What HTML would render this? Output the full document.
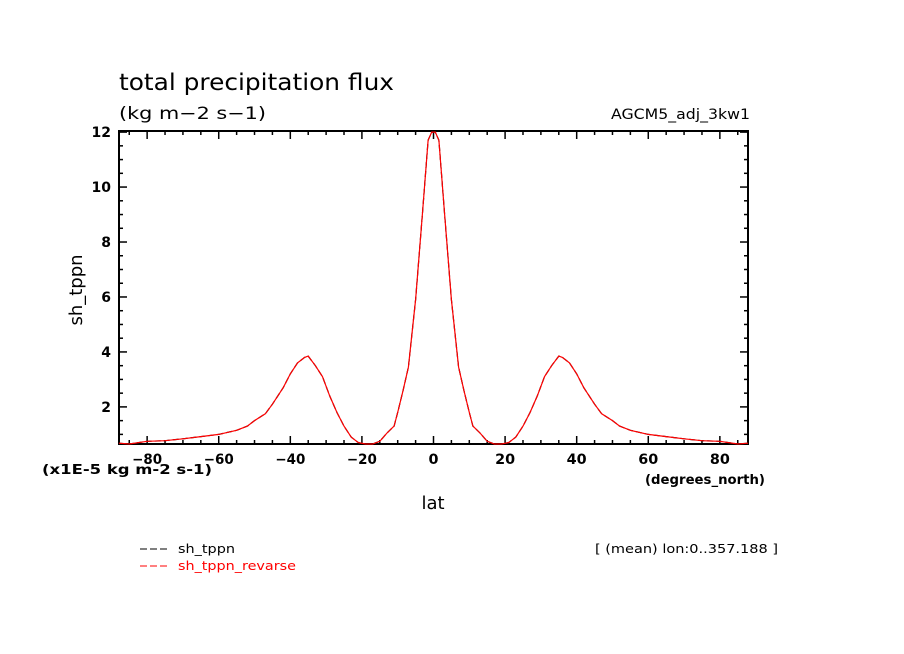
<!DOCTYPE html>
<html><head><meta charset="utf-8">
<style>
html,body{margin:0;padding:0;background:#fff;}
svg{display:block;font-family:"DejaVu Sans","Liberation Sans",sans-serif;}
</style></head>
<body>
<svg id="chart" width="904" height="654" viewBox="0 0 904 654">
<text x="119" y="90" font-size="23" textLength="275" lengthAdjust="spacingAndGlyphs">total precipitation flux</text>
<text x="119" y="119" font-size="17" textLength="147" lengthAdjust="spacingAndGlyphs">(kg m−2 s−1)</text>
<text x="611" y="119" font-size="14" textLength="139" lengthAdjust="spacingAndGlyphs">AGCM5_adj_3kw1</text>
<text transform="translate(82,290) rotate(-90)" font-size="18" text-anchor="middle">sh_tppn</text>
<text x="433" y="509" font-size="18" text-anchor="middle">lat</text>
<text x="42" y="474" font-size="13" font-weight="bold" textLength="170" lengthAdjust="spacingAndGlyphs">(x1E-5 kg m-2 s-1)</text>
<text x="645" y="484" font-size="13" font-weight="bold" textLength="120" lengthAdjust="spacingAndGlyphs">(degrees_north)</text>
<g id="axes"></g>
<g id="series"></g>
<g>
<line x1="140" y1="549" x2="170" y2="549" stroke="#000" stroke-dasharray="7,3"/>
<text x="178" y="553" font-size="12" textLength="57" lengthAdjust="spacingAndGlyphs">sh_tppn</text>
<line x1="140" y1="566" x2="170" y2="566" stroke="#f00" stroke-dasharray="7,3"/>
<text x="178" y="570" font-size="12" fill="#f00" textLength="118" lengthAdjust="spacingAndGlyphs">sh_tppn_revarse</text>
</g>
<text x="595" y="553" font-size="12" textLength="183" lengthAdjust="spacingAndGlyphs">[ (mean) lon:0..357.188 ]</text>
</svg>
<script>
const lats = [-87.9,-85,-80,-75,-70,-65,-60,-55,-52,-50,-47,-45,-42,-40,-38,-36,-35,-33,-31,-29,-27,-25,-23,-21,-19,-17,-15,-13,-11,-10,-8.5,-7,-5,-3,-1.5,-0.5,0.5,1.5,3,5,7,8.5,10,11,13,15,17,19,21,23,25,27,29,31,33,35,36,38,40,42,45,47,50,52,55,60,65,70,75,80,85,87.9];
const tppn = [0.68,0.65,0.75,0.77,0.84,0.92,1.0,1.15,1.3,1.5,1.75,2.1,2.7,3.2,3.6,3.8,3.85,3.5,3.1,2.4,1.8,1.3,0.9,0.7,0.65,0.65,0.75,1.05,1.3,1.8,2.6,3.45,5.9,9.2,11.7,12.0,12.0,11.7,9.2,5.9,3.45,2.6,1.8,1.3,1.05,0.75,0.65,0.65,0.7,0.9,1.3,1.8,2.4,3.1,3.5,3.85,3.8,3.6,3.2,2.7,2.1,1.75,1.5,1.3,1.15,1.0,0.92,0.84,0.77,0.75,0.65,0.68];
const tppnReverse = tppn.slice().reverse();
const xTicks = [-80,-60,-40,-20,0,20,40,60,80];
const yTicks = [2,4,6,8,10,12];
const X0=119,X1=748,Y0=444,Y1=131, XMIN=-87.86,XMAX=87.86,YMIN=0.65,YMAX=12.04;
function sx(v){return X0+(v-XMIN)/(XMAX-XMIN)*(X1-X0);}
function sy(v){return Y0-(v-YMIN)/(YMAX-YMIN)*(Y0-Y1);}
const NS="http://www.w3.org/2000/svg";
const axes=document.getElementById('axes');
function mk(tag,attrs,parent){const e=document.createElementNS(NS,tag);for(const k in attrs)e.setAttribute(k,attrs[k]);parent.appendChild(e);return e;}
let r=mk('rect',{x:X0,y:Y1,width:X1-X0,height:Y0-Y1,fill:'none',stroke:'#000','stroke-width':2},axes);


for(let v=-85;v<=85;v+=5){
  const big=v%20===0, L=big?8:4, x=sx(v);
  let t=mk('line',{x1:x,y1:Y0,x2:x,y2:Y0-L,stroke:'#000','stroke-width':1.5},axes);
  
  
  let t2=mk('line',{x1:x,y1:Y1,x2:x,y2:Y1+L,stroke:'#000','stroke-width':1.5},axes);
  
  
}
xTicks.forEach(v=>{
  const s=(v<0?'−':'')+Math.abs(v);
  const w=s.length*10;
  let t=mk('text',{x:sx(v),y:Y0+20,'font-size':14,'font-weight':'bold','text-anchor':'middle',textLength:w,lengthAdjust:'spacingAndGlyphs'},axes);
  t.textContent=s;
  
  
});
for(let v=1;v<=12;v+=0.5){
  const big=Number.isInteger(v)&&v%2===0, L=big?8:4, y=sy(v);
  let t=mk('line',{x1:X0,y1:y,x2:X0+L,y2:y,stroke:'#000','stroke-width':1.5},axes);
  
  
  let t2=mk('line',{x1:X1,y1:y,x2:X1-L,y2:y,stroke:'#000','stroke-width':1.5},axes);
  
  
}
yTicks.forEach(v=>{
  let t=mk('text',{x:X0-8,y:sy(v)+5,'font-size':14,'font-weight':'bold','text-anchor':'end'},axes);
  t.textContent=v;
  
  
});
const series=document.getElementById('series');
function line(vals,color,dash,name){
  const d=vals.map((v,i)=>(i?'L':'M')+sx(lats[i]).toFixed(1)+','+sy(v).toFixed(1)).join(' ');
  const a={d:d,fill:'none',stroke:color,'stroke-width':1.2};
  if(dash)a['stroke-dasharray']=dash;
  let p=mk('path',a,series);
  
  
}
line(tppn,'#000','6,3','series-sh-tppn');
line(tppnReverse,'#f00',null,'series-sh-tppn-reverse');
</script>
</body></html>
